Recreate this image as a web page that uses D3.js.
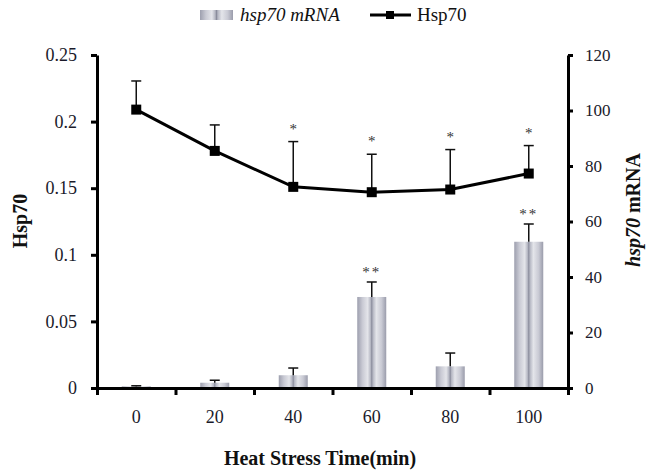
<!DOCTYPE html>
<html>
<head>
<meta charset="utf-8">
<script src="https://cdn.jsdelivr.net/npm/d3@7"></script>
<style>
  body { margin: 0; background: #fff; }
  svg { display: block; font-family: "Liberation Serif", "Times New Roman", serif; }
  svg text { font-family: "Liberation Serif", "Times New Roman", serif; }
  .axis path, .axis line { stroke: #000; stroke-width: 3; }
  .axis text { fill: #1a1a2a; }
</style>
</head>
<body>
<svg id="chart" width="647" height="474"></svg>
<script>
// data
const categories = ["0", "20", "40", "60", "80", "100"];
const mrna = [0.6, 1.9, 4.6, 32.8, 7.8, 52.7];
const mrnaErr = [0.2, 0.9, 2.6, 5.4, 4.8, 6.4];
const mrnaSig = ["", "", "", "**", "", "**"];
const hsp = [0.209, 0.178, 0.151, 0.147, 0.149, 0.161];
const hspErr = [0.0215, 0.0195, 0.034, 0.0285, 0.030, 0.021];
const hspSig = ["", "", "*", "*", "*", "*"];
const leftTicks = [0, 0.05, 0.1, 0.15, 0.2, 0.25];
const rightTicks = [0, 20, 40, 60, 80, 100, 120];

const svg = d3.select("#chart");
const plotLeft = 97, plotRight = 568, plotTop = 55, plotBottom = 388;
const serif = '"Liberation Serif", "Times New Roman", serif';

const x = d3.scaleBand().domain(categories).range([plotLeft, plotRight]).padding(0);
const yL = d3.scaleLinear().domain([0, 0.25]).range([plotBottom, plotTop]);
const yR = d3.scaleLinear().domain([0, 120]).range([plotBottom, plotTop]);
const xEdges = d3.scaleLinear().domain([0, categories.length]).range([plotLeft, plotRight]);

// bar gradient (cylinder-like look)
const defs = svg.append("defs");
const grad = defs.append("linearGradient").attr("id", "barGrad")
  .attr("x1", 0).attr("x2", 1).attr("y1", 0).attr("y2", 0);
[
  [0, "#9d9fae"], [0.18, "#c9cad4"], [0.36, "#e4e5ea"], [0.46, "#b4b6c2"],
  [0.5, "#8a8c9c"], [0.54, "#b4b6c2"], [0.66, "#e4e5ea"], [0.84, "#c9cad4"], [1, "#9a9cab"]
].forEach(([o, c]) => grad.append("stop").attr("offset", o).attr("stop-color", c));

const barW = 29;
const cx = (d) => x(d) + x.bandwidth() / 2;

// bars (hsp70 mRNA, right axis)
svg.append("g").selectAll("rect")
  .data(categories)
  .join("rect")
  .attr("x", (d) => cx(d) - barW / 2)
  .attr("y", (d, i) => yR(mrna[i]))
  .attr("width", barW)
  .attr("height", (d, i) => plotBottom - yR(mrna[i]))
  .attr("fill", "url(#barGrad)");

// bar error bars
const barErr = svg.append("g").attr("stroke", "#111").attr("stroke-width", 1.5);
categories.forEach((d, i) => {
  const y0 = yR(mrna[i]), y1 = yR(mrna[i] + mrnaErr[i]);
  barErr.append("line").attr("x1", cx(d)).attr("x2", cx(d)).attr("y1", y0).attr("y2", y1);
  barErr.append("line").attr("x1", cx(d) - 5).attr("x2", cx(d) + 5).attr("y1", y1).attr("y2", y1);
  if (mrnaSig[i]) {
    svg.append("text").attr("x", cx(d)).attr("y", y1 - 5)
      .attr("text-anchor", "middle").attr("font-size", 15).attr("fill", "#333")
      .attr("letter-spacing", 2)
      .text(mrnaSig[i]);
  }
});

// axes
svg.append("g").attr("class", "axis")
  .attr("transform", `translate(0,${plotBottom})`)
  .call(d3.axisBottom(xEdges).ticks(categories.length).tickFormat("").tickSizeInner(7).tickSizeOuter(0));

svg.append("g").attr("class", "axis")
  .attr("transform", `translate(0,${plotBottom})`)
  .call(d3.axisBottom(x).tickSize(0).tickPadding(22))
  .call((g) => g.select(".domain").remove())
  .attr("font-family", serif).attr("font-size", 18);

svg.append("g").attr("class", "axis")
  .attr("transform", `translate(${plotLeft},0)`)
  .call(d3.axisLeft(yL).tickValues(leftTicks).tickFormat((d) => String(+d.toFixed(2))).tickSizeInner(6).tickSizeOuter(0).tickPadding(14))
  .attr("font-family", serif).attr("font-size", 18);

svg.append("g").attr("class", "axis")
  .attr("transform", `translate(${plotRight},0)`)
  .call(d3.axisRight(yR).tickValues(rightTicks).tickSizeInner(5).tickSizeOuter(0).tickPadding(12))
  .attr("font-family", serif).attr("font-size", 17);

svg.selectAll(".axis .tick line").attr("stroke-width", 2.5);

// Hsp70 line (left axis)
const hspErrG = svg.append("g").attr("stroke", "#111").attr("stroke-width", 1.5);
categories.forEach((d, i) => {
  const y0 = yL(hsp[i]), y1 = yL(hsp[i] + hspErr[i]);
  hspErrG.append("line").attr("x1", cx(d)).attr("x2", cx(d)).attr("y1", y0).attr("y2", y1);
  hspErrG.append("line").attr("x1", cx(d) - 5).attr("x2", cx(d) + 5).attr("y1", y1).attr("y2", y1);
  if (hspSig[i]) {
    svg.append("text").attr("x", cx(d)).attr("y", y1 - 8)
      .attr("text-anchor", "middle").attr("font-size", 15).attr("fill", "#333")
      .text(hspSig[i]);
  }
});

svg.append("path")
  .datum(hsp)
  .attr("fill", "none").attr("stroke", "#000").attr("stroke-width", 3)
  .attr("d", d3.line().x((d, i) => cx(categories[i])).y((d) => yL(d)));

svg.append("g").selectAll("rect")
  .data(hsp)
  .join("rect")
  .attr("x", (d, i) => cx(categories[i]) - 5)
  .attr("y", (d) => yL(d) - 5)
  .attr("width", 10).attr("height", 10)
  .attr("fill", "#000");

// axis titles
svg.append("text")
  .attr("x", 320).attr("y", 465)
  .attr("text-anchor", "middle").attr("font-size", 20).attr("font-weight", "bold").attr("fill", "#111")
  .text("Heat Stress Time(min)");

svg.append("text")
  .attr("transform", "translate(27,221) rotate(-90)")
  .attr("text-anchor", "middle").attr("font-size", 20).attr("font-weight", "bold").attr("fill", "#111")
  .text("Hsp70");

const rt = svg.append("text")
  .attr("transform", "translate(640,210) rotate(-90)")
  .attr("text-anchor", "middle").attr("font-size", 20).attr("font-weight", "bold").attr("fill", "#111");
rt.append("tspan").attr("font-style", "italic").text("hsp70");
rt.append("tspan").text(" mRNA");

// legend
const lg = svg.append("g");
lg.append("rect").attr("x", 200).attr("y", 10).attr("width", 33).attr("height", 10).attr("fill", "url(#barGrad)");
lg.append("text").attr("x", 240).attr("y", 21).attr("font-size", 19).attr("font-style", "italic").attr("fill", "#111")
  .text("hsp70 mRNA");
lg.append("line").attr("x1", 370).attr("x2", 411).attr("y1", 15).attr("y2", 15)
  .attr("stroke", "#000").attr("stroke-width", 3);
lg.append("rect").attr("x", 386).attr("y", 11).attr("width", 8).attr("height", 8).attr("fill", "#000");
lg.append("text").attr("x", 417).attr("y", 21).attr("font-size", 19).attr("fill", "#111")
  .text("Hsp70");
</script>
</body>
</html>
